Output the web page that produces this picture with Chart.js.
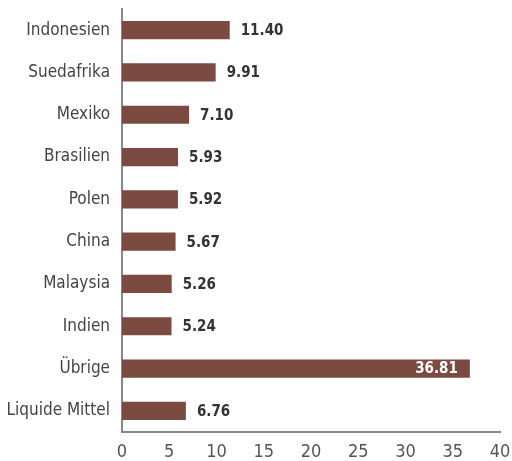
<!DOCTYPE html>
<html><head><meta charset="utf-8">
<script src="https://cdn.jsdelivr.net/npm/chart.js@4/dist/chart.umd.min.js"></script>
<style>html,body{margin:0;padding:0;background:#fff}#wrap{width:512px;height:461px}</style>
</head><body><div id="wrap"><canvas id="c" width="512" height="461"></canvas></div>
<script>
const categories = ["Indonesien","Suedafrika","Mexiko","Brasilien","Polen","China","Malaysia","Indien","Übrige","Liquide Mittel"];
const values = [11.40, 9.91, 7.10, 5.93, 5.92, 5.67, 5.26, 5.24, 36.81, 6.76];
const valueLabels = ["11.40","9.91","7.10","5.93","5.92","5.67","5.26","5.24","36.81","6.76"];
const xTicks = [0,5,10,15,20,25,30,35,40];

const FONT = '"DejaVu Sans Condensed","Liberation Sans Narrow",sans-serif';

const labelPlugin = {
  id: 'valueLabels',
  afterDatasetsDraw(chart) {
    const ctx = chart.ctx;
    const meta = chart.getDatasetMeta(0);
    ctx.save();
    ctx.font = 'bold 15px ' + FONT;
    ctx.textBaseline = 'middle';
    meta.data.forEach((bar, i) => {
      const txt = valueLabels[i];
      const w = ctx.measureText(txt).width;
      if (bar.x + 12 + w > chart.chartArea.right) {
        ctx.fillStyle = '#ffffff';
        ctx.textAlign = 'right';
        ctx.fillText(txt, bar.x - 12, bar.y + 1);
      } else {
        ctx.fillStyle = '#333333';
        ctx.textAlign = 'left';
        ctx.fillText(txt, bar.x + 11, bar.y + 1);
      }
    });
    ctx.restore();
  }
};

new Chart(document.getElementById('c'), {
  type: 'bar',
  data: {
    labels: categories,
    datasets: [{ data: values, backgroundColor: '#7b4a41', barPercentage: 0.86, categoryPercentage: 0.5 }]
  },
  options: {
    indexAxis: 'y',
    responsive: false,
    animation: false,
    layout: { padding: { top: 9, right: 0, left: 0, bottom: 0 } },
    plugins: { legend: { display: false }, tooltip: { enabled: false } },
    scales: {
      x: {
        min: 0, max: 40,
        afterBuildTicks(s) { s.ticks = xTicks.map(v => ({ value: v })); },
        afterFit(s) { s.height = 29; s.paddingRight = 12; s.paddingLeft = 0; },
        grid: { display: false, drawTicks: false },
        border: { display: true, color: '#888888', width: 2 },
        ticks: { color: '#555555', font: { family: FONT, size: 18 }, padding: 10 }
      },
      y: {
        grid: { display: false, drawTicks: false },
        border: { display: true, color: '#888888', width: 2 },
        afterFit(s) { s.width = 122; s.paddingTop = 0; s.paddingBottom = 0; },
        ticks: { color: '#444444', font: { family: FONT, size: 17 }, padding: 12 }
      }
    }
  },
  plugins: [labelPlugin]
});
</script></body></html>
